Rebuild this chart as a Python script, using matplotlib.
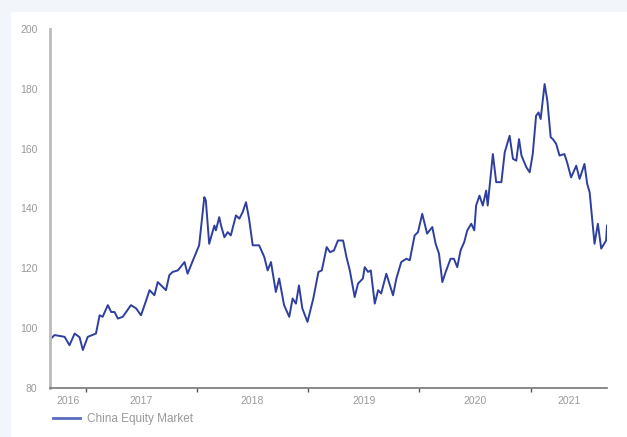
import numpy as np
import pandas as pd
import matplotlib
matplotlib.use("Agg")
import matplotlib.pyplot as plt
import matplotlib.dates as mdates
from matplotlib.patches import Rectangle

plt.rcParams['font.family'] = ['Liberation Sans', 'DejaVu Sans']

# China equity market index
dates = ['2016-09-05', '2016-09-09', '2016-09-20', '2016-10-23', '2016-11-08', '2016-11-25',
         '2016-12-11', '2016-12-22', '2017-01-07', '2017-02-03', '2017-02-15', '2017-02-25',
         '2017-03-14', '2017-03-25', '2017-04-05', '2017-04-16', '2017-05-02', '2017-05-13',
         '2017-05-29', '2017-06-15', '2017-07-01', '2017-07-18', '2017-07-29', '2017-08-14',
         '2017-08-25', '2017-09-05', '2017-09-21', '2017-10-02', '2017-10-13', '2017-10-30',
         '2017-11-21', '2017-12-01', '2017-12-20', '2018-01-08', '2018-01-25', '2018-01-30',
         '2018-02-10', '2018-02-27', '2018-03-04', '2018-03-15', '2018-03-21', '2018-04-01',
         '2018-04-12', '2018-04-22', '2018-05-09', '2018-05-20', '2018-05-31', '2018-06-11',
         '2018-06-21', '2018-07-03', '2018-07-24', '2018-08-10', '2018-08-21', '2018-09-01',
         '2018-09-17', '2018-09-28', '2018-10-14', '2018-10-31', '2018-11-11', '2018-11-22',
         '2018-12-02', '2018-12-13', '2018-12-30', '2019-01-18', '2019-02-04', '2019-02-15',
         '2019-03-03', '2019-03-14', '2019-03-27', '2019-04-09', '2019-04-26', '2019-05-07',
         '2019-05-18', '2019-06-03', '2019-06-14', '2019-06-30', '2019-07-06', '2019-07-17',
         '2019-07-26', '2019-08-08', '2019-08-19', '2019-08-29', '2019-09-15', '2019-10-07',
         '2019-10-18', '2019-11-03', '2019-11-20', '2019-12-01', '2019-12-17', '2019-12-28',
         '2020-01-11', '2020-01-27', '2020-02-13', '2020-02-24', '2020-03-06', '2020-03-17',
         '2020-03-28', '2020-04-13', '2020-04-24', '2020-05-05', '2020-05-16', '2020-05-28',
         '2020-06-07', '2020-06-20', '2020-06-30', '2020-07-06', '2020-07-17', '2020-07-28',
         '2020-08-08', '2020-08-13', '2020-08-30', '2020-09-10', '2020-09-27', '2020-10-08',
         '2020-10-24', '2020-11-04', '2020-11-15', '2020-11-24', '2020-12-02', '2020-12-18',
         '2020-12-29', '2021-01-08', '2021-01-19', '2021-01-27', '2021-02-03', '2021-02-16',
         '2021-02-25', '2021-03-08', '2021-03-15', '2021-03-26', '2021-04-06', '2021-04-22',
         '2021-05-01', '2021-05-14', '2021-05-31', '2021-06-11', '2021-06-27', '2021-07-06',
         '2021-07-14', '2021-07-30', '2021-08-10', '2021-08-21', '2021-09-06', '2021-09-09']
values = [96.0, 96.6, 97.7, 97.1, 94.3, 98.2,
          97.0, 92.7, 97.1, 98.2, 104.3, 103.8,
          107.7, 105.4, 105.4, 103.2, 103.8, 105.4,
          107.7, 106.6, 104.3, 109.3, 112.7, 111.0,
          115.4, 114.3, 112.7, 117.7, 118.8, 119.3,
          122.1, 118.2, 123.0, 127.7, 143.8, 142.7,
          128.2, 134.3, 132.7, 137.1, 134.3, 130.4,
          132.1, 131.0, 137.7, 136.6, 138.8, 142.1,
          136.6, 127.7, 127.7, 123.8, 119.3, 122.1,
          112.1, 116.6, 107.7, 103.8, 109.9, 108.2,
          114.3, 106.6, 102.1, 109.9, 118.8, 119.3,
          127.1, 125.4, 126.0, 129.3, 129.3, 123.8,
          119.3, 110.4, 114.9, 116.6, 120.4, 118.8,
          119.3, 108.2, 112.7, 111.6, 118.2, 111.0,
          116.6, 122.1, 123.2, 122.7, 131.0, 132.1,
          138.2, 131.6, 133.8, 128.2, 124.9, 115.4,
          118.8, 123.2, 123.2, 120.4, 126.0, 128.8,
          132.7, 134.9, 132.7, 141.0, 144.3, 141.0,
          146.0, 141.0, 158.2, 148.8, 148.8, 158.8,
          164.3, 156.6, 156.0, 163.2, 157.7, 153.8,
          152.1, 158.2, 171.0, 172.1, 169.9, 181.6,
          176.0, 163.8, 163.2, 161.6, 157.7, 158.2,
          155.4, 150.4, 154.3, 149.9, 154.9, 148.2,
          145.4, 128.2, 134.9, 126.6, 129.3, 134.3]
series_name = 'China Equity Market'
years = [2016, 2017, 2018, 2019, 2020, 2021]

dates = pd.to_datetime(dates)

fig = plt.figure(figsize=(6.27, 4.37), dpi=100, facecolor='#f2f6fb')
fig.patches.append(Rectangle((11 / 627, 0), 1, 1 - 12 / 437, transform=fig.transFigure,
                             facecolor='white', edgecolor='none', zorder=-10))

ax = fig.add_axes([50 / 627, 1 - 388 / 437, 557 / 627, 359 / 437])
ax.set_facecolor('none')
line, = ax.plot(dates, values, color='#2e3f9f', lw=1.4, label=series_name)

ax.set_xlim(dates[0], dates[-1])
ax.set_ylim(80, 200)
ax.set_yticks(np.arange(80, 201, 20))

# year boundaries as tick marks, year names centred in the visible part of each year
lo, hi = ax.get_xlim()
bounds = [mdates.date2num(pd.Timestamp(f'{y}-01-01')) for y in years[1:]]
ax.set_xticks(bounds)
ax.set_xticklabels([])
edges = [lo] + bounds + [hi]
centres = [(edges[i] + edges[i + 1]) / 2 for i in range(len(years))]
ax.set_xticks(centres, minor=True)
ax.set_xticklabels([str(y) for y in years], minor=True)

ax.tick_params(axis='x', which='major', length=3, width=1, color='#555555', direction='out')
ax.tick_params(axis='x', which='minor', length=0, pad=6, labelsize=7.5, labelcolor='#999999')
ax.tick_params(axis='y', length=0, pad=9, labelsize=7.5, labelcolor='#999999')

for s in ['top', 'right']:
    ax.spines[s].set_visible(False)
ax.spines['left'].set_color('#bbbbbb')
ax.spines['left'].set_linewidth(2)
ax.spines['bottom'].set_color('#777777')
ax.spines['bottom'].set_linewidth(1.2)

leg = fig.legend(handles=[line], loc='center left', bbox_to_anchor=(53 / 627, 1 - 419 / 437),
                 frameon=False, fontsize=8.5, handlelength=2.3, handletextpad=0.55,
                 borderaxespad=0, borderpad=0)
leg.get_lines()[0].set_color('#5b6bc0')
leg.get_lines()[0].set_linewidth(2)
for t in leg.get_texts():
    t.set_color('#999999')

fig.savefig('out.png', dpi=100, facecolor=fig.get_facecolor())
